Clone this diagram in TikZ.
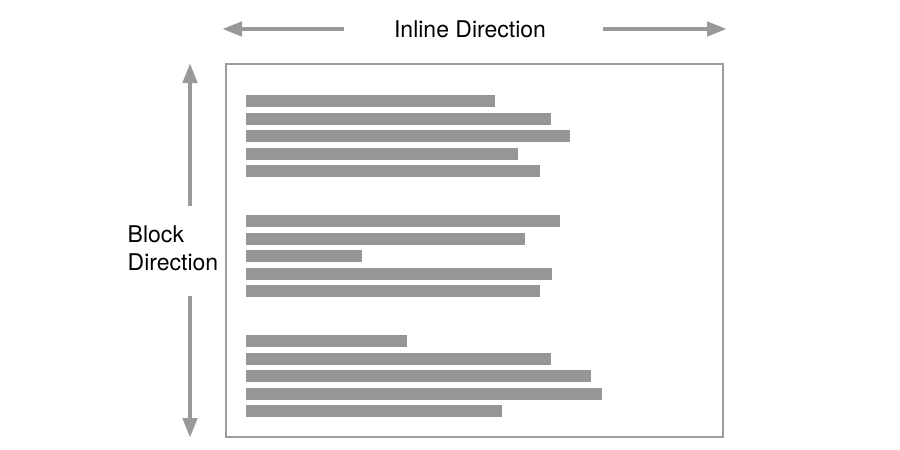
\documentclass[tikz,border=0pt]{standalone}
\usepackage{fontspec}
\setmainfont{TeX Gyre Heros}
\usetikzlibrary{arrows.meta,positioning,calc}
\definecolor{barGray}{HTML}{969696}
\definecolor{frameGray}{HTML}{9C9C9C}
\definecolor{arrowGray}{HTML}{999999}

\begin{document}
\begin{tikzpicture}[
  x=1pt, y=-1pt,
  dirlabel/.style={font=\fontsize{23}{28}\selectfont, inner sep=0pt, align=left},
  pagebox/.style={rectangle, draw=frameGray, line width=2.2pt, inner sep=0pt,
    minimum width=497pt, minimum height=373pt, anchor=north west},
  textbar/.style={fill=barGray},
  dirarrow/.style={-{Triangle[length=20pt,width=14pt]}, line width=4.5pt, draw=arrowGray}
]
\useasboundingbox (0,0) rectangle (900,450);

% Page frame
\node[pagebox] (page) at (225,63) {};

% Paragraph lines (top, right end)
\foreach \y/\r in {95/495, 112.5/551, 130/570, 147.5/518, 165/540,
                   215/560, 232.5/525, 250/362, 267.5/552, 285/540,
                   335/407, 352.5/551, 370/591, 387.5/602, 405/502}
  \fill[textbar] (246,\y) rectangle (\r,\y+12);

% Labels
\node[dirlabel] (inline) at (470,29) {Inline Direction};
\node[dirlabel] (block) at (173,248) {Block\\Direction};

% Arrow tips
\coordinate (inline-l) at (222,29);
\coordinate (inline-r) at (727,29);
\coordinate (block-t) at (190,63);
\coordinate (block-b) at (190,438);

% Direction arrows
\draw[dirarrow] ($(inline.west)+(-50,0)$) -- (inline-l);
\draw[dirarrow] ($(inline.east)+(57,0)$) -- (inline-r);
\draw[dirarrow] ($(block.north -| block-t)+(0,-19)$) -- (block-t);
\draw[dirarrow] ($(block.south -| block-b)+(0,25)$) -- (block-b);

\end{tikzpicture}
\end{document}
